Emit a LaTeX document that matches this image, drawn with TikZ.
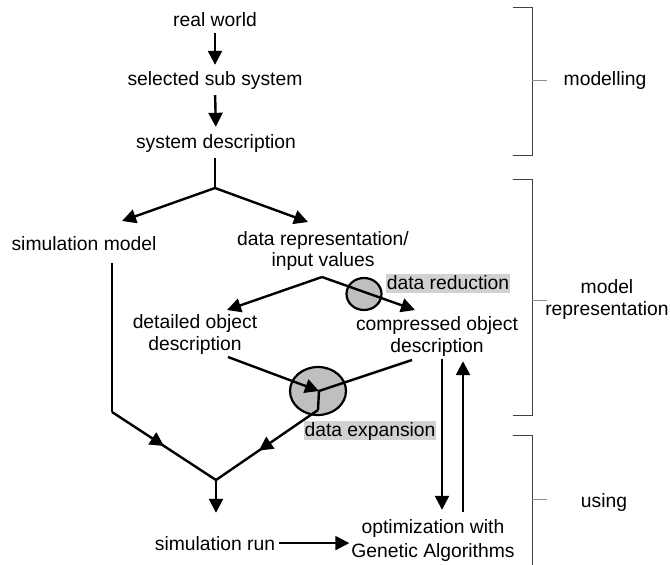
\documentclass[tikz,border=0pt]{standalone}
\usepackage{fontspec}
\setmainfont{Liberation Sans}
\usetikzlibrary{arrows.meta,decorations.markings}

\tikzset{
  lbl/.style={anchor=base, inner sep=0pt, align=center, font=\fontsize{19.3}{22}\selectfont},
  thickline/.style={line width=2.4pt},
  arr/.style={line width=2.4pt, -{Triangle[length=14pt,width=14pt]}},
  midarr/.style={line width=2.4pt, postaction={decorate},
    decoration={markings, mark=at position #1 with {\arrow{Triangle[length=14pt,width=14pt]}}}},
  midarr/.default=0.5,
  blob/.style={draw, line width=2.2pt, fill=black!25},
  greybox/.style={fill=black!18, inner xsep=1pt, inner ysep=1.5pt, text height=13.5pt, text depth=2.5pt},
  bracket/.style={line width=0.9pt, black!75},
  brackettick/.style={line width=0.9pt, black!45}
}

\begin{document}
\begin{tikzpicture}[x=1pt,y=-1pt]
\useasboundingbox (0,0) rectangle (670,565);

% stages of the flow (base = last line)
\node[lbl] (world) at (215,26) {real world};
\node[lbl] (subsys) at (215,85) {selected sub system};
\node[lbl] (sysdesc) at (216,148) {system description};
\node[lbl] (simmodel) at (84,250) {simulation model};
\node[lbl] (datarep) at (323,266) {data representation/\\[-1pt]input values};
\node[lbl] (detailed) at (195,350) {detailed object\\description};
\node[lbl] (compressed) at (437,352) {compressed object\\description};
\node[lbl] (simrun) at (215,550) {simulation run};
\node[lbl] (optim) at (433,557) {optimization with\\[2pt]Genetic Algorithms};

% junctions and free ends
\coordinate (j1) at (215,188);
\coordinate (tosim) at (122,221);
\coordinate (torep) at (308,222);
\coordinate (j2) at (322,277);
\coordinate (todet) at (227,310);
\coordinate (tocomp) at (415,310);
\coordinate (detout) at (228,357);
\coordinate (compout) at (412,360);
\coordinate (expin) at (319,391);
\coordinate (expout) at (318,410);
\coordinate (simout) at (112,263);
\coordinate (bend) at (112,412);
\coordinate (meet) at (216,480);

% top chain
\draw[arr, shorten <=7pt, shorten >=6pt] (world.south) -- (subsys.north);
\draw[arr, shorten <=6pt, shorten >=7pt] (subsys.south) -- (sysdesc.north);
\draw[thickline, shorten <=6pt] (sysdesc.south -| j1) -- (j1);
\draw[arr] (j1) -- (tosim);
\draw[arr] (j1) -- (torep);

% data reduction
\draw[blob] (364,294) ellipse [x radius=17.5, y radius=16];
\draw[arr] (j2) -- (todet);
\draw[arr] (j2) -- (tocomp);
\node[lbl, greybox] (datared) at (448,289) {data reduction};

% data expansion
\draw[blob] (318,391) ellipse [x radius=28, y radius=24];
\draw[arr] (detout) -- (expin);
\draw[thickline] (compout) -- (expin) -- (expout);
\node[lbl, greybox] (dataexp) at (370,436) {data expansion};

% into the simulation run
\draw[thickline] (simout) -- (bend);
\draw[midarr] (bend) -- (meet);
\draw[midarr=0.58] (expout) -- (meet);
\draw[arr, shorten >=23pt] (meet) -- (meet |- simrun.north);
\draw[arr, shorten <=4pt, shorten >=2pt] (simrun.east) -- (simrun.east -| optim.west);
\draw[arr, shorten <=3pt, shorten >=9pt] ([xshift=5pt]compressed.south) -- ([xshift=5pt]compressed.south |- optim.north);
\draw[arr, shorten <=7pt, shorten >=5pt] ([xshift=30pt]optim.north) -- ([xshift=30pt]optim.north |- compressed.south);

% phases on the right
\draw[bracket] (513,7) -- (532,7) -- (532,155) -- (513,155);
\draw[brackettick] (532,80) -- (547,80);
\node[lbl] (modelling) at (605,85) {modelling};
\draw[bracket] (513,179) -- (532,179) -- (532,415) -- (513,415);
\draw[brackettick] (532,300) -- (547,300);
\node[lbl] (modelrep) at (607,315) {model\\representation};
\draw[bracket] (513,435) -- (532,435) -- (532,565);
\draw[brackettick] (532,499) -- (547,499);
\node[lbl] (using) at (604,507) {using};
\end{tikzpicture}
\end{document}
